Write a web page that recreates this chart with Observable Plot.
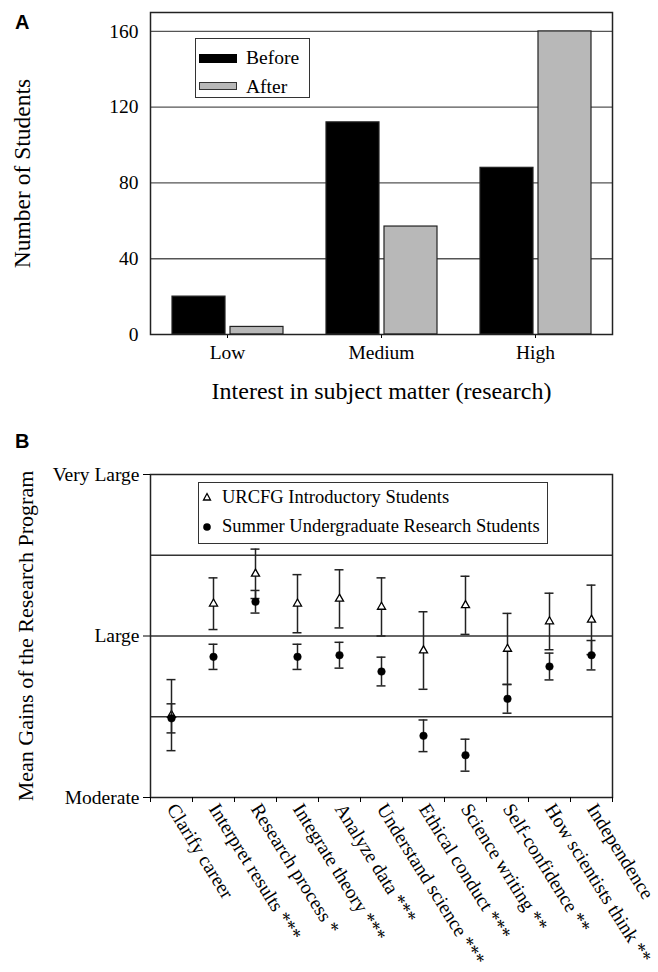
<!DOCTYPE html>
<html><head><meta charset="utf-8">
<script src="https://cdn.jsdelivr.net/npm/d3@7"></script>
<script src="https://cdn.jsdelivr.net/npm/@observablehq/plot@0.6"></script>
<style>
body{margin:0;background:#fff;font-family:"Liberation Serif","Times New Roman",serif;}
#wrap{position:relative;width:658px;height:972px;overflow:hidden;background:#fff}
.panel{position:absolute;left:0;width:658px}
.plabel{position:absolute;font-family:"Liberation Sans",Arial,sans-serif;font-weight:bold;font-size:20px;line-height:20px;color:#000}
.abs{position:absolute;white-space:nowrap;color:#000;line-height:1}
.box{position:absolute;box-sizing:border-box;border:1.5px solid #333;background:#fff}
</style></head>
<body><div id="wrap">
<div class="panel" id="A" style="top:0"></div>
<div class="panel" id="B" style="top:410px"></div>
<div class="plabel" style="left:15px;top:12px">A</div>
<div class="plabel" style="left:15px;top:431px">B</div>
<div class="box" style="left:195px;top:38px;width:115px;height:60px"></div>
<div class="abs" style="left:199px;top:54px;width:38px;height:9px;background:#000"></div>
<div class="abs" style="left:199px;top:82px;width:38px;height:8px;background:#b8b8b8;box-sizing:border-box;border:1px solid #333"></div>
<div class="abs" id="legA1" style="left:246px;top:48px;font-size:19.5px"></div>
<div class="abs" id="legA2" style="left:246px;top:76.5px;font-size:19.5px"></div>
<div class="box" style="left:198px;top:482px;width:350px;height:62px"></div>
<svg class="abs" style="left:200px;top:490px" width="16" height="44">
  <path d="M7,3.5 L10.5,10 L3.5,10 Z" fill="#fff" stroke="#000" stroke-width="1.3"/>
  <circle cx="7" cy="37" r="3.8" fill="#000"/>
</svg>
<div class="abs" id="legB1" style="left:222px;top:488px;font-size:18.5px"></div>
<div class="abs" id="legB2" style="left:222px;top:517px;font-size:18.5px"></div>
</div>
<script>
// ---------- Panel A data ----------
const interestLevels = ["Low", "Medium", "High"];
const periods = ["Before", "After"];
const beforeCounts = [20, 112, 88];
const afterCounts = [4, 57, 160];
const countTicks = [0, 40, 80, 120, 160];
const gridCounts = [40, 80, 120, 160];
const titleAX = "Interest in subject matter (research)";
const titleAY = "Number of Students";

// ---------- Panel B data ----------
const skills = ["Clarify career", "Interpret results ***", "Research process *", "Integrate theory ***",
  "Analyze data ***", "Understand science ***", "Ethical conduct ***", "Science writing **",
  "Self-confidence **", "How scientists think **", "Independence"];
const urcfgMean = [3.51, 4.20, 4.385, 4.20, 4.23, 4.18, 3.91, 4.19, 3.92, 4.09, 4.10];
const urcfgErr = [0.22, 0.16, 0.153, 0.18, 0.18, 0.18, 0.24, 0.18, 0.22, 0.175, 0.215];
const summerMean = [3.49, 3.871, 4.212, 3.871, 3.881, 3.78, 3.382, 3.262, 3.611, 3.811, 3.881];
const summerErr = [0.09, 0.078, 0.07, 0.078, 0.08, 0.089, 0.098, 0.099, 0.089, 0.083, 0.091];
const levelTicks = [3, 4, 5];
const levelLabels = ["Moderate", "Large", "Very Large"];
const gridLevels = [3.5, 4, 4.5];
const seriesB = ["URCFG Introductory Students", "Summer Undergraduate Research Students"];
const titleBY = "Mean Gains of the Research Program";

document.getElementById("legA1").textContent = periods[0];
document.getElementById("legA2").textContent = periods[1];
document.getElementById("legB1").textContent = seriesB[0];
document.getElementById("legB2").textContent = seriesB[1];

const font = "'Liberation Serif','Times New Roman',serif";

// ---------- Panel A ----------
const bars = interestLevels.flatMap((c, i) => [
  {cat: c, period: periods[0], n: beforeCounts[i]},
  {cat: c, period: periods[1], n: afterCounts[i]}
]);

const chartA = Plot.plot({
  width: 658, height: 410,
  marginLeft: 150, marginRight: 46, marginTop: 12, marginBottom: 76,
  style: {fontFamily: font, fontSize: "19.5px", color: "#000", background: "#fff", overflow: "visible"},
  fx: {domain: interestLevels, padding: 0, label: null},
  x: {domain: periods, paddingInner: 0.09, paddingOuter: 0.37, axis: null},
  y: {domain: [0, 170]},
  color: {domain: periods, range: ["#000000", "#b8b8b8"]},
  marks: [
    Plot.ruleY(gridCounts, {stroke: "#555", strokeWidth: 1.3}),
    Plot.barY(bars, {fx: "cat", x: "period", y: "n", fill: "period", stroke: "#222", strokeWidth: 1.2}),
    Plot.axisY(countTicks, {tickSize: 0, tickPadding: 12, label: null, fontSize: 19.5}),
    Plot.axisY([], {tickSize: 0, label: titleAY, labelAnchor: "center", labelOffset: 137, labelArrow: "none", fontSize: 23.5}),
    Plot.axisFx({anchor: "bottom", tickSize: 4, tickPadding: 7, label: null, fontSize: 19.5}),
    Plot.axisFx({anchor: "bottom", tickSize: 0, tickFormat: () => "", label: titleAX, labelAnchor: "center", labelOffset: 64, labelArrow: "none", fontSize: 24}),
    Plot.frame({facet: "super", stroke: "#222", strokeWidth: 1.5})
  ]
});
document.getElementById("A").append(chartA);

// ---------- Panel B ----------
const urcfg = skills.map((s, i) => ({pos: i + 0.5, m: urcfgMean[i], e: urcfgErr[i]}));
const summer = skills.map((s, i) => ({pos: i + 0.5, m: summerMean[i], e: summerErr[i]}));
const capHalf = 0.107;

function errorMarks(data) {
  return [
    Plot.ruleX(data, {x: "pos", y1: d => d.m - d.e, y2: d => d.m + d.e, stroke: "#222", strokeWidth: 1.5}),
    Plot.ruleY(data, {y: d => d.m + d.e, x1: d => d.pos - capHalf, x2: d => d.pos + capHalf, stroke: "#222", strokeWidth: 1.5}),
    Plot.ruleY(data, {y: d => d.m - d.e, x1: d => d.pos - capHalf, x2: d => d.pos + capHalf, stroke: "#222", strokeWidth: 1.5})
  ];
}

const chartB = Plot.plot({
  width: 658, height: 562,
  marginLeft: 150, marginRight: 46, marginTop: 64, marginBottom: 175,
  style: {fontFamily: font, fontSize: "19.5px", color: "#000", background: "#fff", overflow: "visible"},
  x: {domain: [0, skills.length]},
  y: {domain: [3, 5]},
  marks: [
    Plot.ruleY(gridLevels, {stroke: "#333", strokeWidth: 1.3}),
    Plot.frame({stroke: "#222", strokeWidth: 1.5}),
    ...errorMarks(urcfg),
    Plot.dot(urcfg, {x: "pos", y: "m", symbol: "triangle", r: 3, fill: "white", stroke: "#000", strokeWidth: 1.3}),
    ...errorMarks(summer),
    Plot.dot(summer, {x: "pos", y: "m", symbol: "circle", r: 3.8, fill: "#000", stroke: "#000", strokeWidth: 0.5}),
    Plot.axisY({ticks: levelTicks, tickFormat: v => levelLabels[levelTicks.indexOf(v)], tickSize: 7, tickPadding: 4, label: null, fontSize: 19.5}),
    Plot.text([titleBY], {frameAnchor: "left", textAnchor: "middle", rotate: -90, dx: -125, fontSize: 22}),
    Plot.axisX({ticks: d3.range(0, skills.length + 1), tickFormat: () => "", tickSize: 5, label: null}),
    Plot.axisX({ticks: urcfg.map(d => d.pos), tickFormat: v => skills[Math.floor(v)], tickSize: 0, tickPadding: 8, tickRotate: 58, label: null, fontSize: 19.5})
  ]
});
document.getElementById("B").append(chartB);
</script>
</body></html>
